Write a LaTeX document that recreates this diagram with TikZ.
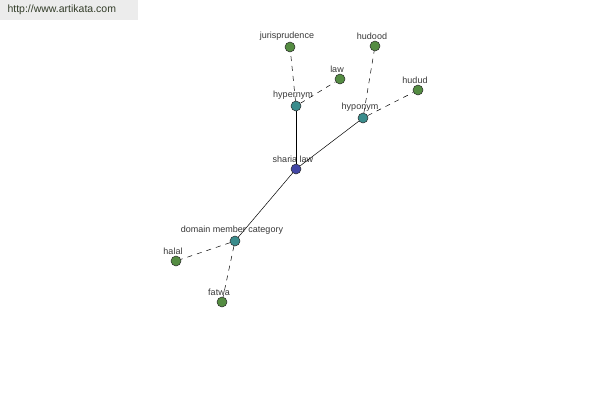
\documentclass[tikz,border=0pt]{standalone}
\usepackage{fontspec}
\setmainfont{Liberation Sans}
\usepackage{xcolor}
\definecolor{akGreen}{RGB}{84,140,66}
\definecolor{akTeal}{RGB}{58,140,140}
\definecolor{akBlue}{RGB}{66,70,165}
\definecolor{akEdge}{RGB}{40,40,40}
\definecolor{akBar}{RGB}{236,236,236}
\definecolor{akText}{RGB}{55,55,55}
\definecolor{akUrl}{RGB}{50,60,40}
\usetikzlibrary{positioning}

\begin{document}
\begin{tikzpicture}[x=1pt,y=-1pt,
  dot/.style={circle,draw=akEdge,line width=0.5pt,minimum size=10pt,inner sep=0pt,
    label distance=-4pt,label={[font=\fontsize{9}{10}\selectfont,text=akText,xshift=-3pt,yshift=-2pt]above:#1}},
  leaf/.style={dot=#1,fill=akGreen},
  rel/.style={dot=#1,fill=akTeal},
  hub/.style={dot=#1,fill=akBlue},
  strong/.style={draw=black,line width=0.5pt},
  weak/.style={draw=black,line width=0.5pt,dash pattern=on 5pt off 5pt}]
  \useasboundingbox (0,0) rectangle (600,400);
  \fill[akBar] (0,0) rectangle (138,20);
  \node[anchor=west,font=\fontsize{10.5}{12}\selectfont,text=akUrl] (site) at (4,10) {http://www.artikata.com};
  % nodes
  \node[hub=sharia law] (sharia) at (296,169) {};
  \node[rel=hypernym] (hyper) at (296,106) {};
  \node[rel=hyponym] (hypo) at (363,118) {};
  \node[rel=domain member category] (dmc) at (235,241) {};
  \node[leaf=jurisprudence] (juris) at (290,47) {};
  \node[leaf=law] (law) at (340,79) {};
  \node[leaf=hudood] (hudood) at (375,46) {};
  \node[leaf=hudud] (hudud) at (418,90) {};
  \node[leaf=halal] (halal) at (176,261) {};
  \node[leaf=fatwa] (fatwa) at (222,302) {};
  % links
  \draw[strong] (sharia) -- (hyper);
  \draw[strong] (sharia) -- (hypo);
  \draw[strong] (sharia) -- (dmc);
  \draw[weak] (hyper) -- (juris);
  \draw[weak] (hyper) -- (law);
  \draw[weak] (hypo) -- (hudood);
  \draw[weak] (hypo) -- (hudud);
  \draw[weak] (dmc) -- (halal);
  \draw[weak] (dmc) -- (fatwa);
\end{tikzpicture}
\end{document}
